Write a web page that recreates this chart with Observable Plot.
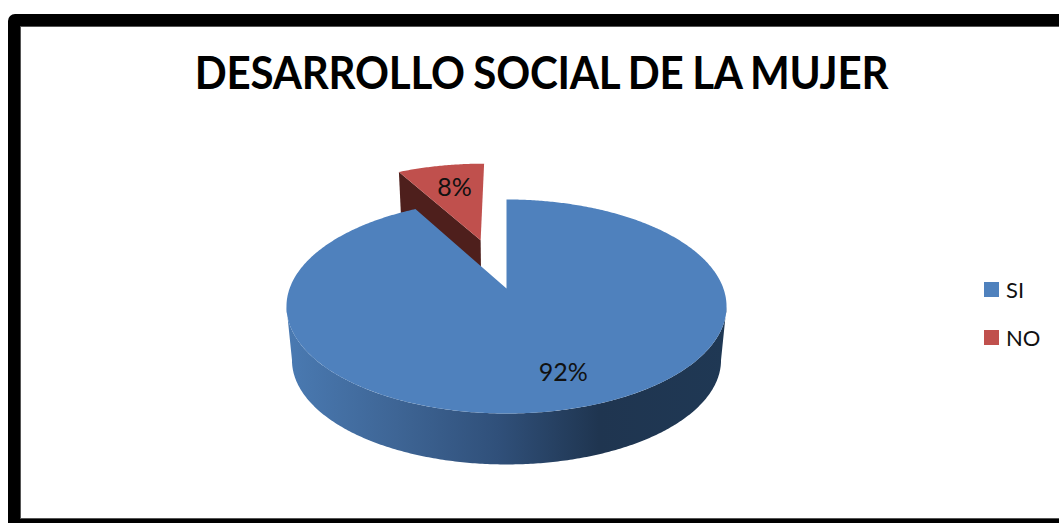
<!DOCTYPE html>
<html>
<head>
<meta charset="utf-8">
<script src="https://cdn.jsdelivr.net/npm/d3@7"></script>
<script src="https://cdn.jsdelivr.net/npm/@observablehq/plot@0.6"></script>
<style>
  html, body { margin: 0; padding: 0; background: #fff; width: 1059px; height: 523px; overflow: hidden; }
  #frame { position: absolute; left: 8px; top: 14px; width: 1100px; height: 493px; border: 12px solid #000; border-bottom-width: 4px; border-top-left-radius: 7px; box-sizing: content-box; box-shadow: inset 0 0 0 1px #555; }
  #title { position: absolute; left: 0; top: 40px; width: 1083px; text-align: center; font: 700 45.5px Lato, sans-serif; color: #000; line-height: 64px; white-space: nowrap; letter-spacing: -0.25px; word-spacing: -1.5px; transform: scaleX(0.925); transform-origin: 541.5px 0; }
  #legend { position: absolute; left: 984px; top: 271px; font: 400 22px Lato, sans-serif; color: #111; }
  #legend div { display: flex; align-items: center; height: 36px; margin-bottom: 12px; }
  #legend i { display: block; width: 15px; height: 15px; margin-right: 7px; }
  #chart { position: absolute; left: 0; top: 0; }
</style>
</head>
<body>
<div id="frame"></div>
<div id="chart"></div>
<div id="title"></div>
<div id="legend"></div>
<script>
const chartTitle = "DESARROLLO SOCIAL DE LA MUJER";
const categories = ["SI", "NO"];
const values = [92, 8];
const colors = ["#4F81BD", "#C0504D"];
const redSide = "#4E1F1C";
const sideStops = [[0, "#4A7AB2"], [0.25, "#3E6595"], [0.48, "#30507A"], [0.71, "#1F3550"], [1, "#1F3854"]];

// 3-D look: points of the unit disc are seen in perspective
const tilt = 0.168, explode = 0.52, depthScale = 0.975, depthDrop = 0.52;

function project(u, v, floor) {
  const w = 1 + tilt * v;
  const s = floor ? depthScale : 1;
  return {x: s * u / w, y: s * v / w - (floor ? depthDrop : 0)};
}
function onDisc(angle, r = 1) { return [r * Math.sin(angle), r * Math.cos(angle)]; }

const arcs = d3.pie().sort(null)(values); // clockwise from north, as startAngle/endAngle
const [blue, red] = arcs;
const redMid = (red.startAngle + red.endAngle) / 2;
const [ox, oy] = onDisc(redMid, explode);

function sweep(a0, a1) {
  const n = Math.max(8, Math.ceil(Math.abs(a1 - a0) / 0.01));
  return d3.range(n + 1).map(i => a0 + (a1 - a0) * i / n);
}
function slicePoints(arc, dx = 0, dy = 0) {
  return [[dx, dy], ...sweep(arc.startAngle, arc.endAngle).map(a => { const [u, v] = onDisc(a); return [u + dx, v + dy]; })]
    .map(([u, v]) => project(u, v, false));
}

// front wall of the big slice: top rim forward, floor rim back
const tang = Math.acos(-tilt);
const frontAngles = sweep(tang, 2 * Math.PI - tang);
const wall = [
  ...frontAngles.map(a => { const [u, v] = onDisc(a); return project(u, v, false); }),
  ...frontAngles.slice().reverse().map(a => { const [u, v] = onDisc(a); return project(u, v, true); })
];

// cut wall of the exploded slice
const [lu, lv] = onDisc(red.startAngle);
const redWall = [
  project(ox, oy, false), project(lu + ox, lv + oy, false),
  project(lu + ox, lv + oy, true), project(ox, oy, true)
];

const blueLabel = (() => { const [u, v] = onDisc((blue.startAngle + blue.endAngle) / 2, 0.73); return project(u, v, false); })();
const redLabel = (() => { const [u, v] = onDisc(redMid, 0.73); return project(u + ox, v + oy, false); })();

const defs = () => {
  const ns = "http://www.w3.org/2000/svg";
  const d = document.createElementNS(ns, "defs");
  const g = document.createElementNS(ns, "linearGradient");
  g.setAttribute("id", "wallGrad");
  for (const [o, c] of sideStops) {
    const s = document.createElementNS(ns, "stop");
    s.setAttribute("offset", o);
    s.setAttribute("stop-color", c);
    g.appendChild(s);
  }
  d.appendChild(g);
  return d;
};

const labelStyle = {x: "x", y: "y", fontFamily: "Lato, sans-serif", fontSize: 25, fill: "#111"};

const plot = Plot.plot({
  width: 1059, height: 523, margin: 0,
  style: {background: "transparent"},
  x: {domain: [-1, 1], range: [506 - 216.9, 506 + 216.9], axis: null},
  y: {domain: [-1, 1], range: [288 + 104, 288 - 104], axis: null},
  marks: [
    defs,
    Plot.line(redWall, {x: "x", y: "y", fill: redSide, stroke: "none"}),
    Plot.line(slicePoints(red, ox, oy), {x: "x", y: "y", fill: colors[1], stroke: "none"}),
    Plot.line(wall, {x: "x", y: "y", fill: "url(#wallGrad)", stroke: "none"}),
    Plot.line(slicePoints(blue), {x: "x", y: "y", fill: colors[0], stroke: "none"}),
    Plot.text([blueLabel], {...labelStyle, text: () => values[0] + "%", dx: 12, dy: 1}),
    Plot.text([redLabel], {...labelStyle, text: () => values[1] + "%", dx: 4, dy: 4})
  ]
});
document.getElementById("chart").appendChild(plot);
document.getElementById("title").textContent = chartTitle;
document.getElementById("legend").innerHTML = categories
  .map((c, i) => `<div><i style="background:${colors[i]}"></i><span>${c}</span></div>`).join("");
</script>
</body>
</html>
